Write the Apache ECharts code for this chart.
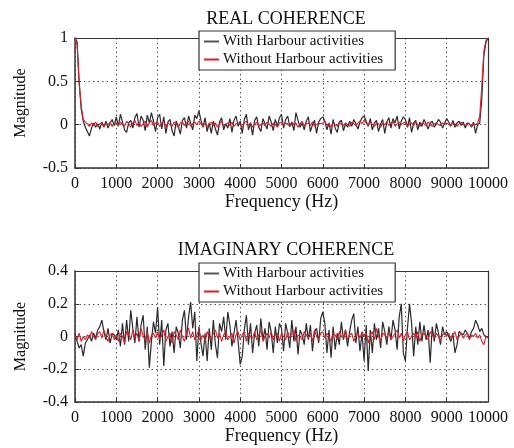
<!DOCTYPE html>
<html>
<head>
<meta charset="utf-8">
<script src="https://cdn.jsdelivr.net/npm/echarts@6/dist/echarts.min.js"></script>
<style>html,body{margin:0;padding:0;background:#fff;}#c{width:514px;height:448px;}</style>
</head>
<body>
<div id="c"></div>
<script>
const seriesNames = ['With Harbour activities', 'Without Harbour activities'];
const freqStep = 50; // Hz between samples, 0..10000
const realWith = [
1.0,0.96,0.5,0.18,0.04,-0.03,-0.08,-0.13,-0.04,0.02,-0.03,0.01,-0.05,0.03,-0.02,0.04,-0.04,0.02,0.06,-0.01,
0.09,-0.02,0.12,0.03,-0.06,-0.09,0.02,0.05,-0.04,0.08,0.13,-0.03,0.1,0.05,-0.07,0.11,0.02,0.14,0.04,-0.08,
0.08,0.12,-0.05,0.09,-0.1,0.03,0.06,-0.07,-0.13,0.04,-0.02,-0.11,0.05,0.08,-0.04,0.1,0.02,-0.06,0.11,0.07,
0.16,0.05,-0.03,0.08,-0.08,0.02,-0.1,0.04,-0.05,-0.12,0.03,0.08,-0.06,0.01,-0.04,0.07,-0.09,0.05,0.1,-0.02,
0.04,-0.1,0.06,0.12,-0.06,0.02,-0.12,0.05,0.09,-0.03,-0.08,0.07,0.01,-0.05,0.1,0.03,-0.07,0.06,-0.02,0.08,
0.12,-0.04,0.06,0.1,-0.02,0.03,-0.07,0.14,0.05,-0.03,0.02,-0.06,0.04,0.09,-0.08,0.0,0.05,-0.1,0.03,0.07,
0.09,0.04,-0.06,0.02,-0.11,0.06,-0.04,-0.09,0.03,0.05,-0.07,0.01,-0.03,0.04,-0.02,0.06,0.01,-0.05,0.03,0.08,
0.1,0.04,-0.02,0.07,-0.06,0.02,0.05,-0.08,0.01,0.06,-0.1,0.03,0.08,-0.04,0.07,0.02,0.1,-0.05,0.04,0.09,
0.06,-0.03,0.08,-0.09,0.02,0.05,-0.06,0.03,-0.02,0.06,0.01,-0.05,0.02,0.04,-0.03,0.01,0.06,0.03,-0.04,0.02,
0.07,0.03,-0.02,0.05,-0.03,0.02,0.04,-0.01,0.03,-0.04,0.02,0.01,-0.03,0.03,-0.1,0.0,0.02,0.3,0.8,0.95,
1.0];
const realWithout = [
1.0,0.92,0.48,0.22,0.06,0.03,0.01,-0.02,0.02,-0.01,0.03,-0.02,0.01,0.02,-0.03,0.02,0.0,0.03,-0.02,0.01,
0.02,-0.01,0.03,0.0,-0.02,0.04,0.01,-0.03,0.02,0.05,-0.01,0.03,-0.02,0.01,0.04,-0.03,0.02,0.05,-0.01,0.02,
0.03,-0.02,0.01,0.04,-0.03,0.02,0.0,-0.02,0.03,0.01,-0.04,0.02,0.03,-0.01,0.02,0.04,-0.02,0.01,0.03,0.0,
0.04,0.01,-0.02,0.02,-0.03,0.01,0.03,-0.01,0.02,-0.03,0.01,0.04,-0.02,0.0,0.02,-0.01,0.03,-0.02,0.01,0.02,
0.0,-0.03,0.02,0.04,-0.01,0.02,-0.03,0.01,0.03,-0.02,0.0,0.02,-0.01,0.03,0.01,-0.02,0.02,0.0,-0.03,0.02,
0.03,-0.01,0.02,0.01,-0.02,0.03,0.0,0.02,-0.03,0.01,0.04,-0.02,0.01,0.02,-0.01,0.03,-0.02,0.0,0.02,0.01,
0.02,0.04,-0.01,0.01,-0.03,0.02,0.0,-0.02,0.03,0.01,-0.01,0.02,0.0,-0.02,0.03,0.01,-0.01,0.02,0.04,0.01,
0.05,0.02,-0.01,0.03,0.0,-0.02,0.02,0.01,-0.03,0.02,0.0,0.03,-0.01,0.02,0.04,-0.02,0.01,0.03,0.0,0.02,
0.03,-0.02,0.01,0.02,-0.01,0.03,0.0,-0.02,0.02,0.01,-0.01,0.03,0.0,-0.02,0.01,0.02,0.0,-0.01,0.02,0.01,
0.02,0.0,-0.01,0.02,0.01,-0.02,0.01,0.03,0.0,-0.01,0.02,0.0,-0.02,0.01,0.0,0.02,0.1,0.45,0.85,0.97,
1.0];
const imagWith = [
0.02,-0.03,-0.07,-0.05,-0.12,-0.04,-0.02,0.01,-0.03,0.02,-0.01,0.04,0.06,0.1,0.03,-0.02,0.05,-0.04,0.02,0.01,
-0.02,0.04,-0.06,0.08,-0.05,0.1,-0.03,0.16,0.05,-0.04,0.12,-0.03,0.07,0.13,-0.08,0.06,-0.19,-0.03,0.09,0.02,
0.18,-0.05,0.1,-0.18,0.04,0.08,-0.06,0.03,-0.1,0.06,0.02,-0.07,0.1,0.16,-0.02,0.12,0.21,0.05,0.15,-0.15,
0.06,-0.04,-0.12,0.02,-0.15,0.05,-0.08,0.1,-0.05,-0.13,0.08,0.03,0.12,-0.02,0.15,0.07,-0.06,0.02,0.1,-0.03,
-0.17,-0.12,0.04,0.13,-0.05,0.08,-0.1,0.02,0.07,-0.06,0.11,-0.02,0.05,-0.08,0.09,0.03,-0.1,0.06,-0.04,0.08,
0.05,-0.09,0.08,0.02,-0.07,0.1,-0.03,0.06,-0.11,0.04,0.01,-0.05,0.08,-0.02,0.07,-0.09,0.03,0.05,-0.04,0.11,
0.15,0.08,-0.1,0.04,-0.13,0.06,-0.08,0.02,-0.05,0.09,-0.02,0.04,-0.06,0.03,0.1,0.14,-0.04,0.06,-0.09,0.02,
-0.15,0.07,-0.21,0.04,-0.1,0.08,-0.02,0.05,-0.07,0.09,0.03,-0.05,0.06,-0.02,0.1,0.04,-0.08,0.12,0.2,-0.1,
-0.15,0.05,0.2,0.08,-0.12,0.06,-0.05,0.09,-0.03,0.07,-0.02,0.04,-0.16,0.06,-0.03,0.08,0.02,-0.05,0.06,0.01,
0.03,0.0,-0.03,0.02,-0.1,-0.05,0.03,0.02,0.01,0.04,0.02,-0.01,0.03,0.05,0.1,0.07,0.03,0.05,0.01,0.0,
0.0];
const imagWithout = [
0.01,-0.02,0.02,-0.03,0.0,-0.02,0.01,-0.01,0.03,0.0,-0.02,0.02,0.03,-0.01,0.04,0.0,-0.03,0.01,0.02,-0.02,
0.01,-0.03,0.02,0.0,-0.04,0.03,0.01,-0.02,0.04,-0.01,0.02,-0.03,0.05,0.0,-0.02,0.03,-0.04,0.01,0.02,-0.01,
0.03,-0.02,0.01,0.04,-0.03,0.0,0.02,-0.04,0.03,0.01,-0.02,0.04,0.0,-0.03,0.02,0.05,-0.01,0.03,-0.02,0.01,
0.04,-0.02,0.01,-0.03,0.03,0.0,-0.02,0.02,0.04,-0.01,0.02,-0.03,0.01,0.03,-0.02,0.0,0.02,-0.04,0.01,0.03,
-0.02,0.01,0.03,-0.03,0.02,0.0,-0.01,0.03,-0.02,0.01,0.04,-0.03,0.0,0.02,-0.01,0.03,-0.02,0.01,0.02,-0.03,
0.02,0.0,-0.02,0.03,-0.01,0.02,0.04,-0.03,0.01,0.0,-0.02,0.03,0.01,-0.01,0.02,-0.03,0.04,0.0,-0.02,0.02,
0.03,-0.01,0.02,0.0,-0.03,0.02,0.01,-0.02,0.03,0.0,-0.01,0.04,-0.02,0.01,0.02,-0.03,0.0,0.02,-0.01,0.03,
0.0,0.02,-0.04,0.01,0.03,-0.02,0.05,0.0,-0.03,0.02,0.01,-0.01,0.03,-0.02,0.0,0.02,0.04,-0.01,0.02,-0.03,
0.01,0.03,-0.02,0.0,0.02,-0.01,0.03,-0.03,0.01,0.02,0.0,-0.02,0.03,0.01,-0.01,0.02,0.0,-0.03,0.01,0.02,
0.0,0.02,-0.01,0.01,0.03,-0.02,0.0,0.02,-0.01,0.01,0.02,-0.02,0.01,0.0,0.02,-0.01,0.01,-0.03,-0.05,0.0,
-0.01];

const FONT = '"Liberation Serif","Times New Roman",serif';
const BLACK = '#2b2b2b';
const RED = '#d9202a';
const pairs = arr => arr.map((v, i) => [i * freqStep, v]);
const AXC = '#333';
const GRIDLINE = {show: true, lineStyle: {color: '#555', type: [1.5, 3], width: 1}};

function xAxis(gi) {
  return {
    type: 'value', gridIndex: gi, min: 0, max: 10000, interval: 1000,
    name: 'Frequency (Hz)', nameLocation: 'middle', nameGap: 22,
    nameTextStyle: {fontFamily: FONT, fontSize: 18, color: '#111'},
    axisLine: {show: true, onZero: false, lineStyle: {color: AXC, width: 1.5}},
    axisTick: {show: true, inside: true, length: 4, lineStyle: {color: AXC}},
    axisLabel: {fontFamily: FONT, fontSize: 16, color: '#111', margin: 8,
      formatter: v => String(v)},
    splitLine: GRIDLINE
  };
}
function xTop(gi) {
  return {type: 'value', gridIndex: gi, position: 'top', min: 0, max: 10000,
    axisLine: {show: true, onZero: false, lineStyle: {color: AXC, width: 1.2}},
    axisTick: {show: false}, axisLabel: {show: false}, splitLine: {show: false}};
}
function yAxis(gi, min, max, interval) {
  return {
    type: 'value', gridIndex: gi, min, max, interval,
    name: 'Magnitude', nameLocation: 'middle', nameGap: 46,
    nameTextStyle: {fontFamily: FONT, fontSize: 16, color: '#111'},
    axisLine: {show: true, onZero: false, lineStyle: {color: AXC, width: 1.5}},
    axisTick: {show: true, inside: true, length: 4, lineStyle: {color: AXC}},
    axisLabel: {fontFamily: FONT, fontSize: 16, color: '#111', margin: 7,
      formatter: v => String(Math.round(v * 10) / 10)},
    splitLine: GRIDLINE
  };
}
function yRight(gi, min, max) {
  return {type: 'value', gridIndex: gi, position: 'right', min, max,
    axisLine: {show: true, onZero: false, lineStyle: {color: AXC, width: 1.2}},
    axisTick: {show: false}, axisLabel: {show: false}, splitLine: {show: false}};
}
function legend(top) {
  return {
    data: [{name: seriesNames[0], itemStyle: {color: '#555'}}, {name: seriesNames[1]}],
    orient: 'vertical', left: 199, top: top,
    backgroundColor: '#fff', borderColor: '#333', borderWidth: 1.2,
    padding: [3, 12, 3, 5], itemGap: 3, itemWidth: 15, itemHeight: 2, icon: 'rect',
    textStyle: {fontFamily: FONT, fontSize: 15, color: '#111', padding: [0, 0, 0, -1]}
  };
}
function line(name, xi, yi, data, color, w) {
  return {type: 'line', name, xAxisIndex: xi, yAxisIndex: yi, data,
    showSymbol: false, symbol: 'none', lineStyle: {color, width: w}, itemStyle: {color},
    z: name === seriesNames[1] ? 3 : 2};
}

const chart = echarts.init(document.getElementById('c'), null, {renderer: 'canvas'});
chart.setOption({
  animation: false,
  backgroundColor: '#fff',
  title: [
    {text: 'REAL COHERENCE', left: 281, top: 5, textAlign: 'center',
     textStyle: {fontFamily: FONT, fontSize: 18, fontWeight: 'normal', color: '#111'}},
    {text: 'IMAGINARY COHERENCE', left: 281, top: 236, textAlign: 'center',
     textStyle: {fontFamily: FONT, fontSize: 18, fontWeight: 'normal', color: '#111'}}
  ],
  legend: [legend(31), legend(263)],
  grid: [
    {left: 75, right: 26, top: 38, height: 130},
    {left: 75, right: 26, top: 271, height: 131}
  ],
  xAxis: [xAxis(0), xAxis(1), xTop(0), xTop(1)],
  yAxis: [yAxis(0, -0.5, 1, 0.5), yAxis(1, -0.4, 0.4, 0.2), yRight(0, -0.5, 1), yRight(1, -0.4, 0.4)],
  series: [
    line(seriesNames[0], 0, 0, pairs(realWith), BLACK, 1.2),
    line(seriesNames[1], 0, 0, pairs(realWithout), RED, 1.1),
    line(seriesNames[0], 1, 1, pairs(imagWith), BLACK, 1.2),
    line(seriesNames[1], 1, 1, pairs(imagWithout), RED, 1.1)
  ]
});
</script>
</body>
</html>
